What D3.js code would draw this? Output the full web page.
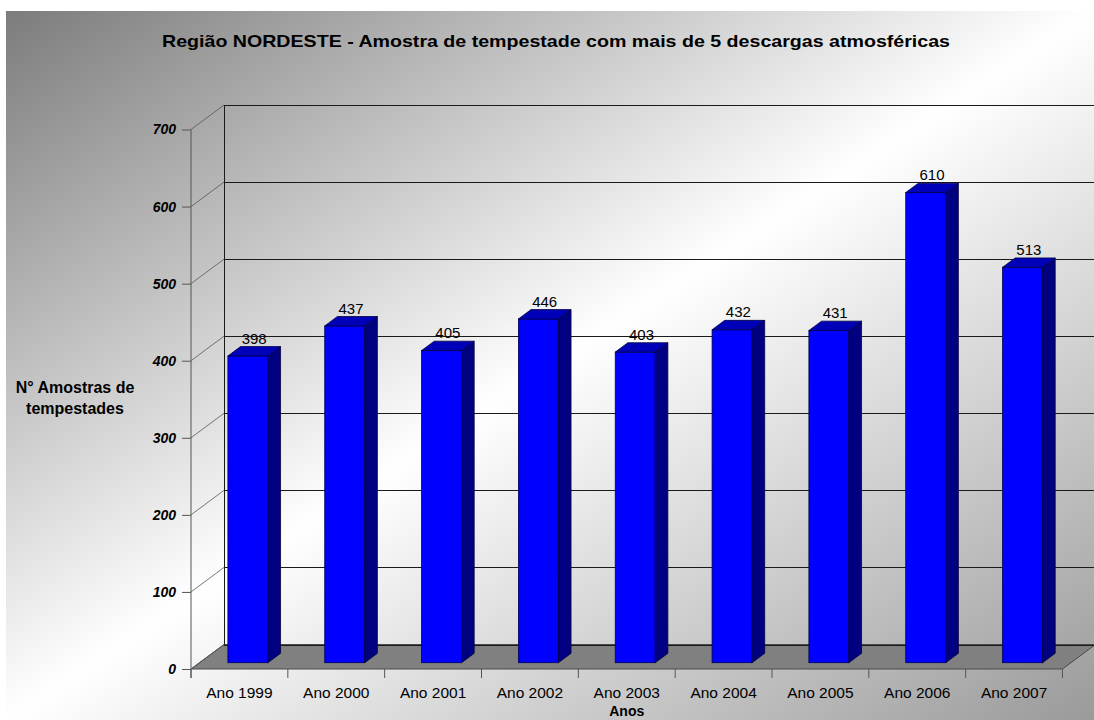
<!DOCTYPE html>
<html>
<head>
  <title>Região NORDESTE</title>
  <style>
    body { margin: 0; background: #ffffff; }
    svg { display: block; font-family: "Liberation Sans", Arial, sans-serif; }
    .tick-label { font-size: 14px; font-weight: bold; font-style: italic; }
    .cat-label { font-size: 15.5px; }
    .val-label { font-size: 15px; }
  </style>
</head>
<body>
  <script src="https://d3js.org/d3.v7.min.js"></script>
  <script>
// values
const years = ["Ano 1999", "Ano 2000", "Ano 2001", "Ano 2002", "Ano 2003", "Ano 2004", "Ano 2005", "Ano 2006", "Ano 2007"];
const counts = [398, 437, 405, 446, 403, 432, 431, 610, 513];
const yTicks = [0, 100, 200, 300, 400, 500, 600, 700];

const width = 1094;
const height = 720;

// 3d look: how far the back wall sits from the front axis
const depthX = 33;
const depthY = -24.5;
// bar sits between these depth fractions
const barFront = 0.257;
const barBack = 0.64;

const svg = d3.select("body")
  .append("svg")
  .attr("width", width)
  .attr("height", height);

// background gradient
const defs = svg.append("defs");
const grad = defs.append("linearGradient")
  .attr("id", "bg")
  .attr("x1", 0).attr("y1", 0)
  .attr("x2", 1).attr("y2", 1);
grad.append("stop").attr("offset", 0).attr("stop-color", "#7c7c7c");
grad.append("stop").attr("offset", 0.5).attr("stop-color", "#ffffff");
grad.append("stop").attr("offset", 1).attr("stop-color", "#9a9a9a");

svg.append("rect")
  .attr("x", 6).attr("y", 11)
  .attr("width", width - 6).attr("height", height - 11)
  .attr("fill", "url(#bg)");

// scales
const x = d3.scaleBand()
  .domain(years)
  .range([191, 1062.5])
  .paddingInner(0.587)
  .paddingOuter(0.2935);

const y = d3.scaleLinear()
  .domain([0, 700])
  .range([669, 129.5]);

const x0 = x.range()[0];
const x1 = x.range()[1];

// title (the original font is a bit wider, so stretch it)
svg.append("text")
  .attr("x", 162)
  .attr("y", 47)
  .attr("textLength", 788)
  .attr("lengthAdjust", "spacingAndGlyphs")
  .style("font-size", "17px")
  .style("font-weight", "bold")
  .text("Região NORDESTE - Amostra de tempestade com mais de 5 descargas atmosféricas");

// floor
const floorPts = [
  [x0, y(0)], [x1, y(0)],
  [x1 + depthX, y(0) + depthY], [x0 + depthX, y(0) + depthY]
];
svg.append("polygon")
  .attr("points", floorPts.map(p => p.join(",")).join(" "))
  .attr("fill", "#808080")
  .attr("stroke", "#4a4a4a")
  .attr("stroke-width", 1);

// back wall gridlines
svg.append("g")
  .selectAll("line")
  .data(yTicks)
  .join("line")
  .attr("x1", x0 + depthX)
  .attr("x2", width + 2)
  .attr("y1", d => Math.round(y(d) + depthY) + 0.5)
  .attr("y2", d => Math.round(y(d) + depthY) + 0.5)
  .attr("stroke", "#1a1a1a")
  .attr("stroke-width", 1);

// side wall diagonals
svg.append("g")
  .selectAll("line")
  .data(yTicks)
  .join("line")
  .attr("x1", x0)
  .attr("y1", d => y(d))
  .attr("x2", x0 + depthX)
  .attr("y2", d => y(d) + depthY)
  .attr("stroke", "#555")
  .attr("stroke-width", 0.8);

// back wall left edge
svg.append("line")
  .attr("x1", x0 + depthX + 0.5).attr("x2", x0 + depthX + 0.5)
  .attr("y1", y(700) + depthY).attr("y2", y(0) + depthY)
  .attr("stroke", "#1a1a1a")
  .attr("stroke-width", 1);

// y axis (front)
const yAxis = d3.axisLeft(y)
  .tickValues(yTicks)
  .tickSize(9)
  .tickPadding(6);

const yg = svg.append("g")
  .attr("transform", `translate(${x0},0)`)
  .call(yAxis);
yg.select(".domain")
  .attr("d", `M0,${y(700)}V${y(0) + 9}`)
  .attr("stroke", "#555");
yg.selectAll(".tick line").attr("stroke", "#555");
yg.selectAll(".tick text")
  .attr("class", "tick-label")
  .attr("fill", "#000")
  .attr("font-size", null)
  .attr("font-family", null);

// x axis (front edge of floor)
const xAxis = d3.axisBottom(x)
  .tickSize(0)
  .tickPadding(18);

const xg = svg.append("g")
  .attr("transform", `translate(0,${y(0)})`)
  .call(xAxis);
xg.select(".domain").remove();
xg.selectAll(".tick text")
  .attr("class", "cat-label")
  .attr("fill", "#000")
  .attr("font-size", null)
  .attr("font-family", null);

// small ticks between categories
const step = x.step();
svg.append("g")
  .selectAll("line")
  .data(d3.range(years.length + 1))
  .join("line")
  .attr("x1", i => x0 + i * step)
  .attr("x2", i => x0 + i * step)
  .attr("y1", y(0))
  .attr("y2", y(0) + 9)
  .attr("stroke", "#555");

// bars
const data = years.map((yr, i) => ({ year: yr, value: counts[i] }));
const bw = x.bandwidth();
const fdx = depthX * barFront, fdy = depthY * barFront;
const sdx = depthX * (barBack - barFront), sdy = depthY * (barBack - barFront);

const bars = svg.append("g")
  .selectAll("g")
  .data(data)
  .join("g");

// front face
bars.append("rect")
  .attr("x", d => x(d.year) + fdx)
  .attr("y", d => y(d.value) + fdy)
  .attr("width", bw)
  .attr("height", d => y(0) - y(d.value))
  .attr("fill", "#0000ff")
  .attr("stroke", "#000050")
  .attr("stroke-width", 0.8);

// side face
bars.append("polygon")
  .attr("points", d => {
    const l = x(d.year) + fdx + bw;
    const t = y(d.value) + fdy;
    const b = y(0) + fdy;
    return [[l, t], [l + sdx, t + sdy], [l + sdx, b + sdy], [l, b]].map(p => p.join(",")).join(" ");
  })
  .attr("fill", "#000080")
  .attr("stroke", "#000040")
  .attr("stroke-width", 0.8);

// top face
bars.append("polygon")
  .attr("points", d => {
    const l = x(d.year) + fdx;
    const t = y(d.value) + fdy;
    return [[l, t], [l + bw, t], [l + bw + sdx, t + sdy], [l + sdx, t + sdy]].map(p => p.join(",")).join(" ");
  })
  .attr("fill", "#0000b8")
  .attr("stroke", "#000040")
  .attr("stroke-width", 0.8);

// value labels
bars.append("text")
  .attr("class", "val-label")
  .attr("x", d => x(d.year) + fdx + bw / 2 + sdx / 2)
  .attr("y", d => y(d.value) + fdy + sdy - 3)
  .attr("text-anchor", "middle")
  .text(d => d.value);

// axis titles
const yTitle = svg.append("text")
  .attr("text-anchor", "middle")
  .style("font-size", "16px")
  .style("font-weight", "bold");
yTitle.append("tspan").attr("x", 75).attr("y", 393).text("N° Amostras de");
yTitle.append("tspan").attr("x", 75).attr("y", 414).text("tempestades");

svg.append("text")
  .attr("x", (x0 + x1) / 2)
  .attr("y", 716)
  .attr("text-anchor", "middle")
  .style("font-size", "14px")
  .style("font-weight", "bold")
  .text("Anos");
  </script>
</body>
</html>
